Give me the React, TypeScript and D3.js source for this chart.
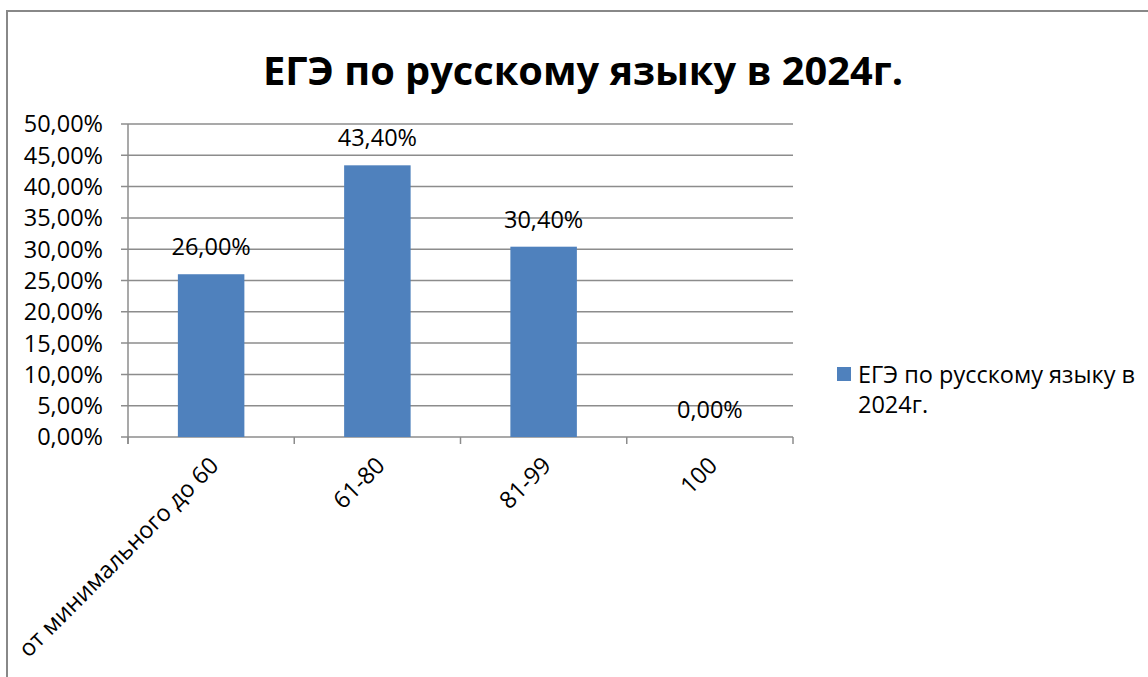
import React, { useRef, useEffect } from 'react';
import * as d3 from 'd3';

const title = 'ЕГЭ по русскому языку в 2024г.';
const seriesName = 'ЕГЭ по русскому языку в 2024г.';
const categories = ['от минимального до 60', '61-80', '81-99', '100'];
const values = [0.26, 0.434, 0.304, 0];
const yTicks = [0, 0.05, 0.1, 0.15, 0.2, 0.25, 0.3, 0.35, 0.4, 0.45, 0.5];

const fmt = (v: number) => (v * 100).toFixed(2).replace('.', ',') + '%';

const App: React.FC = () => {
  const svgRef = useRef<SVGSVGElement>(null);

  useEffect(() => {
    const svg = d3.select(svgRef.current);
    svg.selectAll('*').remove();

    const width = 1148;
    const height = 677;
    const font = '"Open Sans", "Noto Sans", sans-serif';
    const fs = 23.5;
    const left = 128, right = 793, top = 124, bottom = 437;

    // chart frame
    svg.append('rect')
      .attr('x', 7).attr('y', 11)
      .attr('width', width + 10).attr('height', height + 10)
      .attr('fill', '#fff').attr('stroke', '#888').attr('stroke-width', 2);

    svg.append('text')
      .attr('x', 583).attr('y', 85)
      .attr('text-anchor', 'middle')
      .attr('font-family', font).attr('font-weight', 'bold')
      .attr('font-size', 40)
      .attr('textLength', 640).attr('lengthAdjust', 'spacingAndGlyphs')
      .text(title);

    const x = d3.scaleBand<string>()
      .domain(categories)
      .range([left, right])
      .paddingInner(0.6)
      .paddingOuter(0.3);

    const y = d3.scaleLinear().domain([0, 0.5]).range([bottom, top]);

    // gridlines
    svg.append('g')
      .selectAll('line')
      .data(yTicks)
      .join('line')
      .attr('x1', left - 7).attr('x2', right)
      .attr('y1', d => y(d)).attr('y2', d => y(d))
      .attr('stroke', '#8c8c8c').attr('stroke-width', 1.5);

    // y axis line
    svg.append('line')
      .attr('x1', left).attr('x2', left)
      .attr('y1', top).attr('y2', bottom + 7)
      .attr('stroke', '#8c8c8c').attr('stroke-width', 1.5);

    // category ticks
    const band = (right - left) / categories.length;
    svg.append('g')
      .selectAll('line')
      .data(d3.range(categories.length + 1))
      .join('line')
      .attr('x1', i => left + i * band).attr('x2', i => left + i * band)
      .attr('y1', bottom).attr('y2', bottom + 7)
      .attr('stroke', '#8c8c8c').attr('stroke-width', 1.5);

    svg.append('g')
      .selectAll('text')
      .data(yTicks)
      .join('text')
      .attr('x', 103).attr('y', d => y(d))
      .attr('dy', '0.36em')
      .attr('text-anchor', 'end')
      .attr('font-family', font).attr('font-size', fs)
      .text(d => fmt(d));

    // bars
    svg.append('g')
      .selectAll('rect')
      .data(values)
      .join('rect')
      .attr('x', (_, i) => x(categories[i])!)
      .attr('y', d => y(d))
      .attr('width', x.bandwidth())
      .attr('height', d => bottom - y(d))
      .attr('fill', '#4f81bd');

    // data labels
    svg.append('g')
      .selectAll('text')
      .data(values)
      .join('text')
      .attr('x', (_, i) => x(categories[i])! + x.bandwidth() / 2)
      .attr('y', d => y(d) - 19)
      .attr('text-anchor', 'middle')
      .attr('font-family', font).attr('font-size', fs)
      .text(d => fmt(d));

    // category labels
    svg.append('g')
      .selectAll('text')
      .data(categories)
      .join('text')
      .attr('transform', d => `translate(${x(d)! + x.bandwidth() / 2 + 9},${bottom + 30}) rotate(-45)`)
      .attr('text-anchor', 'end')
      .attr('font-family', font).attr('font-size', fs)
      .text(d => d);

    // legend
    svg.append('rect')
      .attr('x', 837).attr('y', 367).attr('width', 14).attr('height', 14)
      .attr('fill', '#4f81bd');
    const words = seriesName.split(' ');
    const lg = svg.append('text')
      .attr('font-family', font).attr('font-size', fs);
    lg.append('tspan').attr('x', 858).attr('y', 383).text(words.slice(0, -1).join(' '));
    lg.append('tspan').attr('x', 858).attr('y', 413).text(words[words.length - 1]);
  }, []);

  return (
    <svg ref={svgRef} width={1148} height={677}
      style={{ position: 'absolute', left: 0, top: 0, background: '#fff' }} />
  );
};

export default App;
